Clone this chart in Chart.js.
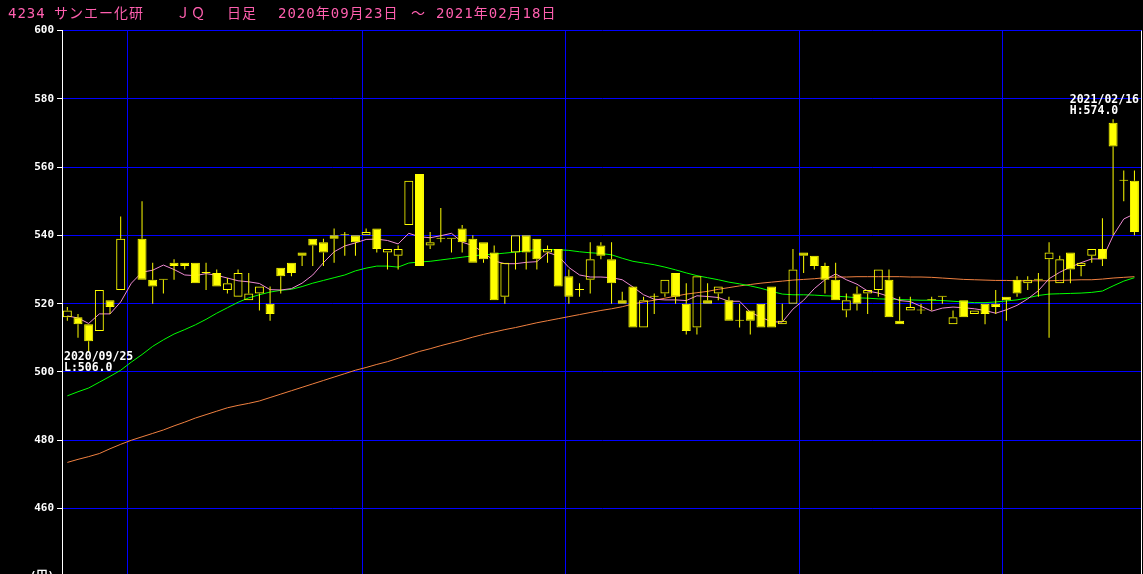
<!DOCTYPE html>
<html>
<head>
<meta charset="utf-8">
<script src="https://cdn.jsdelivr.net/npm/chart.js@4.4.1/dist/chart.umd.min.js"></script>
<style>
    html, body { margin: 0; padding: 0; background: #000; overflow: hidden; }
    #wrap { position: relative; width: 1143px; height: 574px; }
    canvas { display: block; }
    .ttl {
        position: absolute; top: 5px;
        font: 14px "DejaVu Sans Mono", "Noto Sans CJK JP", monospace;
        color: #ff5faf; letter-spacing: 1px; white-space: pre; line-height: 16px;
    }
</style>
</head>
<body>
<div id="wrap">
    <canvas id="chart" width="1143" height="574"></canvas>
    <div id="title"></div>
</div>
<script>
// 日足 2020/09/23 - 2021/02/18 (2020/10/01 は売買停止で空欄)
const dates = [
    "2020/09/23", "2020/09/24", "2020/09/25", "2020/09/28", "2020/09/29", "2020/09/30",
    "2020/10/01", "2020/10/02", "2020/10/05", "2020/10/06", "2020/10/07", "2020/10/08", "2020/10/09",
    "2020/10/12", "2020/10/13", "2020/10/14", "2020/10/15", "2020/10/16", "2020/10/19", "2020/10/20",
    "2020/10/21", "2020/10/22", "2020/10/23", "2020/10/26", "2020/10/27", "2020/10/28", "2020/10/29", "2020/10/30",
    "2020/11/02", "2020/11/04", "2020/11/05", "2020/11/06", "2020/11/09", "2020/11/10", "2020/11/11",
    "2020/11/12", "2020/11/13", "2020/11/16", "2020/11/17", "2020/11/18", "2020/11/19", "2020/11/20",
    "2020/11/24", "2020/11/25", "2020/11/26", "2020/11/27", "2020/11/30",
    "2020/12/01", "2020/12/02", "2020/12/03", "2020/12/04", "2020/12/07", "2020/12/08", "2020/12/09",
    "2020/12/10", "2020/12/11", "2020/12/14", "2020/12/15", "2020/12/16", "2020/12/17", "2020/12/18",
    "2020/12/21", "2020/12/22", "2020/12/23", "2020/12/24", "2020/12/25", "2020/12/28", "2020/12/29", "2020/12/30",
    "2021/01/04", "2021/01/05", "2021/01/06", "2021/01/07", "2021/01/08", "2021/01/12", "2021/01/13",
    "2021/01/14", "2021/01/15", "2021/01/18", "2021/01/19", "2021/01/20", "2021/01/21", "2021/01/22",
    "2021/01/25", "2021/01/26", "2021/01/27", "2021/01/28", "2021/01/29",
    "2021/02/01", "2021/02/02", "2021/02/03", "2021/02/04", "2021/02/05", "2021/02/08", "2021/02/09",
    "2021/02/10", "2021/02/12", "2021/02/15", "2021/02/16", "2021/02/17", "2021/02/18"
];

const openP = [
    516, 516, 514, 512, 521, 524, null, 539, 527, 527, 532, 532, 532, 529, 529, 524, 522, 521, 523, 520,
    530.5, 532, 535, 539, 538, 540, 540, 540, 540, 542, 535, 534, 543, 558, 537, 539, 539, 542, 539, 538,
    535, 522, 535, 540, 539, 535, 536, 528, 524, 527, 537, 533, 521, 525, 513, 522, 523, 529, 520, 513,
    521, 523, 521, 515, 518, 520, 525, 514, 520, 535, 534, 531, 527, 518, 523, 523, 524, 527, 515, 518,
    518, 521, 522, 514, 521, 517, 520, 520, 522, 527, 526, 527, 533, 526, 535, 531, 534, 536, 573, 556, 556
];
const highP = [
    519, 517, 514, 524, 521, 545.5, null, 550, 532, 527, 533, 532, 532, 532, 530, 527.5, 530, 529, 525, 525,
    530.5, 532, 535, 539, 539, 542, 541, 540, 542, 542, 536, 537, 556, 558, 541, 548, 539, 543, 540, 538,
    537, 532, 540, 540, 539, 537, 536, 530, 526, 538, 538, 538, 523.5, 525, 522, 523, 527, 529, 526, 528,
    526, 525, 522, 520, 518, 520, 525, 520, 536, 535, 534, 532, 532, 523, 525, 524, 530, 530, 522, 522,
    520, 522, 522, 518, 521, 518, 520, 524, 522, 528, 528, 529, 538, 534, 535, 532, 536, 545, 574, 559, 559
];
const lowP = [
    515, 510, 506, 512, 517, 524, null, 527, 520, 523, 527, 530, 526, 524, 525, 523, 522, 521, 518, 515,
    523, 528, 531, 531, 531, 532, 534, 534, 540, 535, 530, 530, 543, 531, 536, 538, 535, 535, 532, 532,
    521, 520, 530, 530, 530, 532, 525, 520, 522, 523, 533, 520, 520, 513, 513, 517, 522, 520, 511, 511,
    520, 521, 515, 513, 511, 513, 513, 514, 520, 529, 530, 523, 521, 516, 518, 517, 522, 516, 514, 518,
    517, 518, 520, 514, 516, 517, 514, 517, 515, 522, 524, 522, 510, 526, 526, 528, 532, 531, 540, 550, 540
];
const closeP = [
    518, 514, 509, 524, 519, 539, null, 527, 525, 527, 531, 531, 526, 529, 525, 526, 529, 523, 525, 517,
    528, 529, 534, 537, 535, 539, 540, 538, 541, 536, 536, 536, 556, 531, 538, 539, 539, 538, 532, 533,
    521, 532, 540, 535, 533, 536, 525, 522, 524, 533, 534, 526, 520, 513, 521, 522, 527, 522, 512, 528,
    520, 525, 515, 515, 515, 513, 513, 515, 530, 534, 531, 527, 521, 521, 520, 524, 530, 516, 514, 519,
    518, 521, 522, 516, 516, 518, 517, 519, 521, 523, 527, 527, 535, 533, 530, 532, 536, 533, 566, 556, 541
];

// 移動平均線 (画面から読み取り)
const ma5 = [
    516.4, 515.8, 514.2, 517.0, 517.0, 520.5, 526.0, 529.2, 529.8, 531.3, 530.0, 528.4, 528.2, 528.8, 528.3,
    527.5, 526.7, 526.4, 525.9, 524.1, 524.0, 524.4, 526.0, 528.4, 532.0, 535.2, 536.9, 537.8, 538.8, 538.9,
    538.5, 537.5, 540.6, 539.6, 539.3, 539.9, 540.6, 538.0, 537.0, 535.0, 532.5, 531.7, 531.7, 532.1, 532.3,
    535.0, 534.0, 530.6, 528.4, 527.8, 527.8, 527.6, 527.0, 524.9, 522.6, 521.3, 521.1, 521.1, 520.9, 522.3,
    522.1, 521.8, 520.7, 520.7, 517.5, 516.0, 514.7, 514.6, 518.4, 521.0, 524.4, 527.0, 528.7, 527.0, 525.7,
    523.7, 523.1, 522.1, 520.9, 520.6, 519.2, 517.8, 518.7, 519.0, 518.8, 518.5, 518.0, 517.2, 518.2, 519.5,
    521.4, 523.8, 527.3, 529.2, 530.7, 532.0, 533.1, 533.1, 539.9, 544.8, 546.3
];
const ma25 = [
    493.0, 494.2, 495.3, 497.0, 498.7, 500.5, 502.9, 505.1, 507.5, 509.4, 511.1, 512.4, 513.8, 515.4, 517.2,
    518.8, 520.4, 521.7, 522.6, 523.4, 523.9, 524.2, 525.0, 526.0, 526.8, 527.6, 528.4, 529.6, 530.4, 531.0,
    531.0, 530.7, 531.9, 532.2, 532.4, 532.8, 533.2, 533.6, 534.0, 534.3, 534.5, 534.8, 535.1, 535.5, 535.8,
    535.8, 535.8, 535.6, 535.2, 534.9, 534.7, 534.3, 533.3, 532.4, 531.9, 531.4, 530.7, 529.9, 529.0, 528.2,
    527.6, 527.0, 526.3, 525.8, 525.2, 524.5, 523.6, 522.8, 522.6, 522.6, 522.5, 522.3, 522.2, 522.0, 521.7,
    521.6, 521.4, 521.3, 521.2, 521.1, 521.0, 521.0, 520.9, 520.7, 520.5, 520.3, 520.3, 520.5, 520.8, 521.1,
    521.7, 522.4, 522.8, 522.9, 523.0, 523.1, 523.3, 523.7, 525.2, 526.6, 527.6
];
const ma75 = [
    473.5, 474.4, 475.2, 476.1, 477.5, 478.8, 480.0, 481.0, 482.0, 483.0, 484.2, 485.3, 486.5, 487.5, 488.5,
    489.5, 490.2, 490.8, 491.5, 492.5, 493.5, 494.5, 495.5, 496.5, 497.5, 498.5, 499.5, 500.5, 501.3, 502.2,
    503.0, 504.0, 505.0, 506.0, 506.8, 507.7, 508.5, 509.3, 510.2, 511.0, 511.7, 512.4, 513.0, 513.7, 514.4,
    515.0, 515.6, 516.2, 516.8, 517.4, 518.0, 518.5, 519.1, 519.9, 520.5, 521.0, 521.6, 522.2, 522.8, 523.2,
    523.6, 524.2, 524.7, 525.2, 525.6, 526.0, 526.3, 526.6, 526.9, 527.1, 527.3, 527.6, 527.8, 527.8, 527.9,
    527.9, 527.9, 527.9, 527.9, 527.8, 527.8, 527.7, 527.5, 527.3, 527.1, 527.0, 526.9, 526.8, 526.8, 526.7,
    526.7, 526.7, 526.7, 526.8, 526.9, 527.0, 527.0, 527.2, 527.5, 527.7, 527.9
];

const yTicks = [460, 480, 500, 520, 540, 560, 580, 600];

const titleParts = [
    ["4234", 8], ["サンエー化研", 54], ["ＪＱ", 176], ["日足", 227],
    ["2020年09月23日", 278], ["～", 411], ["2021年02月18日", 436]
];

const titleEl = document.getElementById("title");
titleParts.forEach(([text, left]) => {
    const span = document.createElement("span");
    span.className = "ttl";
    span.style.left = left + "px";
    span.textContent = text;
    titleEl.appendChild(span);
});

const YELLOW = "#ffff00";
const BLUE = "#0000ff";

const idx = dates.map((d, i) => i);
const traded = idx.filter(i => openP[i] !== null);

const bodies = traded.map(i => ({ x: i, y: [openP[i], closeP[i]], up: closeP[i] > openP[i] }));
const upperWicks = traded
    .filter(i => highP[i] > Math.max(openP[i], closeP[i]))
    .map(i => ({ x: i, y: [Math.max(openP[i], closeP[i]), highP[i]] }));
const lowerWicks = traded
    .filter(i => lowP[i] < Math.min(openP[i], closeP[i]))
    .map(i => ({ x: i, y: [lowP[i], Math.min(openP[i], closeP[i])] }));

// month boundaries -> vertical grid lines (drawn just left of the month's first candle)
const monthBreaks = [];
for (let i = 1; i < dates.length; i++) {
    if (dates[i].slice(0, 7) !== dates[i - 1].slice(0, 7)) monthBreaks.push(i - 0.352);
}

const lineSet = (label, values, color, order) => ({
    type: "line",
    label,
    data: values.map((v, i) => ({ x: i, y: v })),
    borderColor: color,
    borderWidth: 1,
    pointRadius: 0,
    tension: 0,
    order
});

const barSet = (label, data, thickness, order, extra) => ({
    type: "bar",
    label,
    data,
    grouped: false,
    barThickness: thickness,
    borderSkipped: false,
    inflateAmount: 0,
    order,
    ...extra
});

// extreme labels (高値 / 安値)
const extremesPlugin = {
    id: "extremes",
    afterDraw(chart) {
        const { ctx, chartArea, scales } = chart;
        const x = scales.x, y = scales.y;

        // right frame line
        ctx.save();
        ctx.strokeStyle = "#ffffff";
        ctx.lineWidth = 1;
        ctx.beginPath();
        ctx.moveTo(Math.round(chartArea.right) - 0.5, chartArea.top);
        ctx.lineTo(Math.round(chartArea.right) - 0.5, chartArea.bottom);
        ctx.stroke();

        let iHigh = traded[0], iLow = traded[0];
        traded.forEach(i => {
            if (highP[i] > highP[iHigh]) iHigh = i;
            if (lowP[i] < lowP[iLow]) iLow = i;
        });

        ctx.font = 'bold 11.5px "DejaVu Sans Mono", monospace';
        ctx.fillStyle = "#ffffff";
        ctx.textBaseline = "alphabetic";
        ctx.textAlign = "left";

        const place = (i, lines, offsets) => {
            const w = Math.max(...lines.map(t => ctx.measureText(t).width));
            let left = x.getPixelForValue(i) - w / 2;
            left = Math.max(chartArea.left + 2, Math.min(chartArea.right - 3 - w, left));
            lines.forEach((t, k) => ctx.fillText(t, left, offsets[k]));
        };

        const yh = y.getPixelForValue(highP[iHigh]);
        place(iHigh, [dates[iHigh], "H:" + highP[iHigh].toFixed(1)], [yh - 16, yh - 5]);
        const yl = y.getPixelForValue(lowP[iLow]);
        place(iLow, [dates[iLow], "L:" + lowP[iLow].toFixed(1)], [yl + 9, yl + 20]);

        // unit label under the axis (mostly cut off by the window edge)
        ctx.font = 'bold 11px "DejaVu Sans Mono", "Noto Sans CJK JP", monospace';
        ctx.textAlign = "right";
        ctx.textBaseline = "top";
        ctx.fillText("(円)", chartArea.left - 8, 571);
        ctx.restore();
    }
};

new Chart(document.getElementById("chart"), {
    type: "bar",
    data: {
        datasets: [
            barSet("body", bodies, 9, 0, {
                minBarLength: 1,
                borderWidth: 1,
                borderColor: YELLOW,
                backgroundColor: c => (c.raw && c.raw.up ? "rgba(0,0,0,0)" : YELLOW)
            }),
            barSet("upperWick", upperWicks, 1, 1, { backgroundColor: YELLOW, borderWidth: 0 }),
            barSet("lowerWick", lowerWicks, 1, 1, { backgroundColor: YELLOW, borderWidth: 0 }),
            lineSet("5日", ma5, "#ee8ad2", 2),
            lineSet("25日", ma25, "#00ff00", 3),
            lineSet("75日", ma75, "#f08040", 4)
        ]
    },
    options: {
        responsive: false,
        animation: false,
        devicePixelRatio: 1,
        layout: { padding: { top: 30.5, right: 1, bottom: 0, left: 0 } },
        plugins: {
            legend: { display: false },
            tooltip: { enabled: false },
            title: { display: false }
        },
        scales: {
            x: {
                type: "linear",
                min: -0.5,
                max: 100.709,
                offset: false,
                afterBuildTicks: s => { s.ticks = monthBreaks.map(v => ({ value: v })); },
                afterFit: s => {
                    s.height = 0;
                    s.paddingLeft = 0; s.paddingRight = 0; s.paddingTop = 0; s.paddingBottom = 0;
                },
                ticks: { display: false },
                grid: { color: BLUE, lineWidth: 1, drawTicks: false, offset: false },
                border: { display: false }
            },
            y: {
                min: 440.82,
                max: 600,
                afterBuildTicks: s => { s.ticks = yTicks.map(v => ({ value: v })); },
                afterFit: s => {
                    s.width = 62;
                    s.paddingTop = 0; s.paddingBottom = 0; s.paddingLeft = 0; s.paddingRight = 0;
                },
                ticks: {
                    color: "#ffffff",
                    padding: 3,
                    font: { family: '"DejaVu Sans Mono", monospace', size: 11, weight: "bold" }
                },
                grid: { color: BLUE, lineWidth: 1, tickColor: "#ffffff", tickLength: 5, drawTicks: true },
                border: { color: "#ffffff", width: 1 }
            }
        }
    },
    plugins: [extremesPlugin]
});
</script>
</body>
</html>
